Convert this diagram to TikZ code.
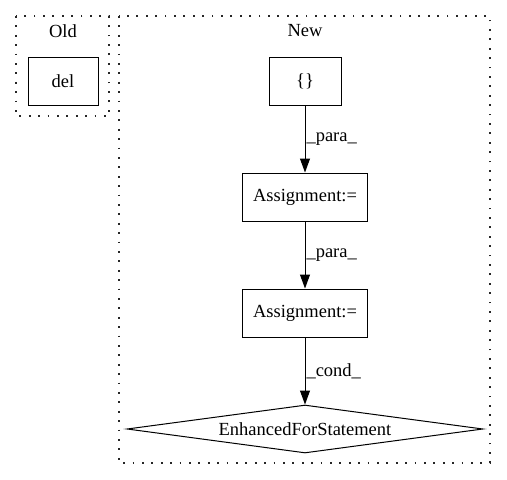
\documentclass[tikz,border=0pt]{standalone}
\usepackage{fontspec}
\setmainfont{Liberation Serif}
\usetikzlibrary{shapes.geometric,arrows.meta}
\tikzset{
  cluster/.style={draw=black!85, line width=1.2pt, dash pattern=on 1.8pt off 7.6pt},
  box/.style={draw, line width=1pt, rectangle, minimum height=48pt, inner sep=0pt, font=\fontsize{18.5}{22}\selectfont},
  dia/.style={draw, line width=1pt, diamond, aspect=7.4, inner sep=0pt, minimum width=356pt, minimum height=48pt, font=\fontsize{18.5}{22}\selectfont},
  ttl/.style={font=\fontsize{18.5}{22}\selectfont},
  elab/.style={font=\fontsize{18.5}{22}\selectfont, anchor=west, inner sep=1pt},
  edge/.style={line width=1pt, -{Triangle[length=14pt,width=10pt]}}
}
\begin{document}
\begin{tikzpicture}[x=1pt,y=-1pt]
\useasboundingbox (0,0) rectangle (507,480);
% clusters
\draw[cluster] (16,16) rectangle (109,116);
\draw[cluster] (119,16) rectangle (490,463);
\node[ttl] (oldlbl) at (63,31) {Old};
\node[ttl] (newlbl) at (305,31) {New};
% nodes
\node[box, minimum width=70pt] (del) at (63,81) {del};
\node[box, minimum width=72pt] (br) at (305,81) {\{\}};
\node[box, minimum width=125pt] (a1) at (305,197) {Assignment:=};
\node[box, minimum width=125pt] (a2) at (305,313) {Assignment:=};
\node[dia] (efs) at (305,429) {EnhancedForStatement};
% edges
\draw[edge] (br) -- node[elab, pos=0.5] {\_para\_} (a1);
\draw[edge] (a1) -- node[elab, pos=0.5] {\_para\_} (a2);
\draw[edge] (a2) -- node[elab, pos=0.5] {\_cond\_} (efs);
\end{tikzpicture}
\end{document}
